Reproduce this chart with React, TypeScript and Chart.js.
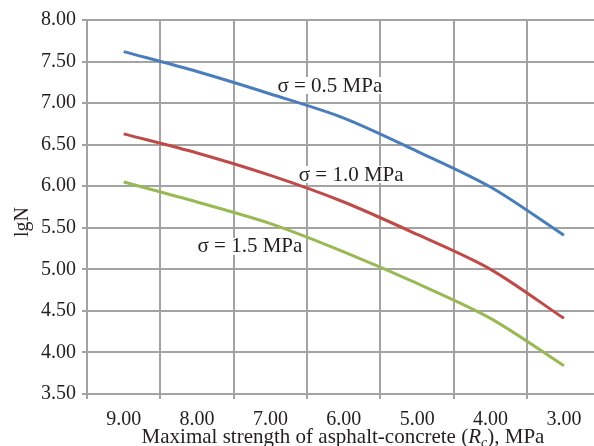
import { useEffect, useRef } from 'react';
import { Chart, registerables } from 'chart.js';

Chart.register(...registerables);

// ---- data ----
const strengthValues = [9, 8, 7, 6, 5, 4, 3];
const categoryBounds = [9.5, 8.5, 7.5, 6.5, 5.5, 4.5, 3.5];
const yTickValues = [3.5, 4.0, 4.5, 5.0, 5.5, 6.0, 6.5, 7.0, 7.5, 8.0];
const sigma05 = [7.62, 7.38, 7.11, 6.82, 6.42, 5.99, 5.41];
const sigma10 = [6.63, 6.4, 6.13, 5.81, 5.42, 5.0, 4.41];
const sigma15 = [6.05, 5.81, 5.55, 5.21, 4.83, 4.41, 3.84];
const seriesLabels = ['σ = 0.5 MPa', 'σ = 1.0 MPa', 'σ = 1.5 MPa'];
const labelAnchorX = [6.19, 5.9, 7.28];
const labelAnchorY = [7.206, 6.135, 5.27];
const seriesColors = ['#4a7ebb', '#be4b48', '#98b954'];

const FONT = '"Liberation Serif", "Times New Roman", serif';
const TEXT = '#231f20';
const GRID = '#a3a3a3';

const textPlugin = {
  id: 'customText',
  afterDraw(chart: any) {
    const ctx = chart.ctx as CanvasRenderingContext2D;
    const xs = chart.scales.x;
    const ys = chart.scales.y;
    ctx.save();
    // series labels
    ctx.font = `21px ${FONT}`;
    ctx.textAlign = 'center';
    ctx.textBaseline = 'middle';
    seriesLabels.forEach((t, i) => {
      const px = xs.getPixelForValue(labelAnchorX[i]);
      const py = ys.getPixelForValue(labelAnchorY[i]);
      const w = ctx.measureText(t).width;
      ctx.fillStyle = '#ffffff';
      ctx.fillRect(px - w / 2 - 1, py - 9, w + 2, 17);
      ctx.fillStyle = TEXT;
      ctx.fillText(t, px, py);
    });
    // y title
    ctx.save();
    ctx.translate(23, 222);
    ctx.rotate(-Math.PI / 2);
    ctx.font = `20px ${FONT}`;
    ctx.fillStyle = TEXT;
    ctx.fillText('lgN', 0, 0);
    ctx.restore();
    // x title with italic R and subscript c
    const parts = [
      { t: 'Maximal strength of asphalt-concrete (', f: `21px ${FONT}`, dy: 0 },
      { t: 'R', f: `italic 21px ${FONT}`, dy: 0 },
      { t: 'c', f: `italic 14px ${FONT}`, dy: 4 },
      { t: '), MPa', f: `21px ${FONT}`, dy: 0 },
    ];
    let total = 0;
    const widths = parts.map((p) => {
      ctx.font = p.f;
      const w = ctx.measureText(p.t).width;
      total += w;
      return w;
    });
    let x = 343 - total / 2;
    ctx.textAlign = 'left';
    ctx.textBaseline = 'alphabetic';
    ctx.fillStyle = TEXT;
    parts.forEach((p, i) => {
      ctx.font = p.f;
      ctx.fillText(p.t, x, 443 + p.dy);
      x += widths[i];
    });
    ctx.restore();
  },
};

export default function App() {
  const ref = useRef<HTMLCanvasElement | null>(null);
  useEffect(() => {
    if (!ref.current) return;
    const mk = (vals: number[]) => strengthValues.map((x, i) => ({ x, y: vals[i] }));
    const chart = new Chart(ref.current, {
      type: 'line',
      data: {
        datasets: [sigma05, sigma10, sigma15].map((vals, i) => ({
          label: seriesLabels[i],
          data: mk(vals),
          borderColor: seriesColors[i],
          backgroundColor: seriesColors[i],
          borderWidth: 3,
          pointRadius: 0,
          tension: 0.3,
          xAxisID: 'x',
          yAxisID: 'y',
        })),
      },
      options: {
        animation: false,
        responsive: false,
        layout: { padding: { top: 20, left: 0, right: 0, bottom: 0 } },
        plugins: { legend: { display: false }, tooltip: { enabled: false } },
        scales: {
          x: {
            type: 'linear',
            position: 'bottom',
            reverse: true,
            min: 2.59,
            max: 9.5,
            weight: 1,
            grid: { display: false },
            border: { display: false },
            ticks: {
              color: TEXT,
              font: { family: FONT, size: 20 },
              padding: 6,
              maxRotation: 0,
              autoSkip: false,
              callback: (v: any) => Number(v).toFixed(2),
            },
            afterBuildTicks: (s: any) => {
              s.ticks = strengthValues.map((v) => ({ value: v }));
            },
            afterFit: (s: any) => {
              s.height = 52;
            },
          },
          xg: {
            type: 'linear',
            position: 'bottom',
            reverse: true,
            min: 2.59,
            max: 9.5,
            weight: 0,
            grid: { color: GRID, lineWidth: 2, tickLength: 5, drawTicks: true },
            border: { display: false },
            ticks: { display: false },
            afterBuildTicks: (s: any) => {
              s.ticks = categoryBounds.map((v) => ({ value: v }));
            },
            afterFit: (s: any) => {
              s.height = 0;
            },
          },
          y: {
            type: 'linear',
            position: 'left',
            min: 3.5,
            max: 8,
            grid: { color: GRID, lineWidth: 2, tickLength: 5 },
            border: { color: GRID, width: 2 },
            ticks: {
              color: TEXT,
              font: { family: FONT, size: 20 },
              padding: 6,
              callback: (v: any) => Number(v).toFixed(2),
            },
            afterBuildTicks: (s: any) => {
              s.ticks = yTickValues.map((v) => ({ value: v }));
            },
            afterFit: (s: any) => {
              s.width = 87;
            },
          },
        },
      } as any,
      plugins: [textPlugin],
    });
    return () => chart.destroy();
  }, []);
  return (
    <div style={{ position: 'absolute', left: 0, top: 0, width: 594, height: 446, background: '#fff' }}>
      <canvas ref={ref} width={594} height={446} />
    </div>
  );
}
